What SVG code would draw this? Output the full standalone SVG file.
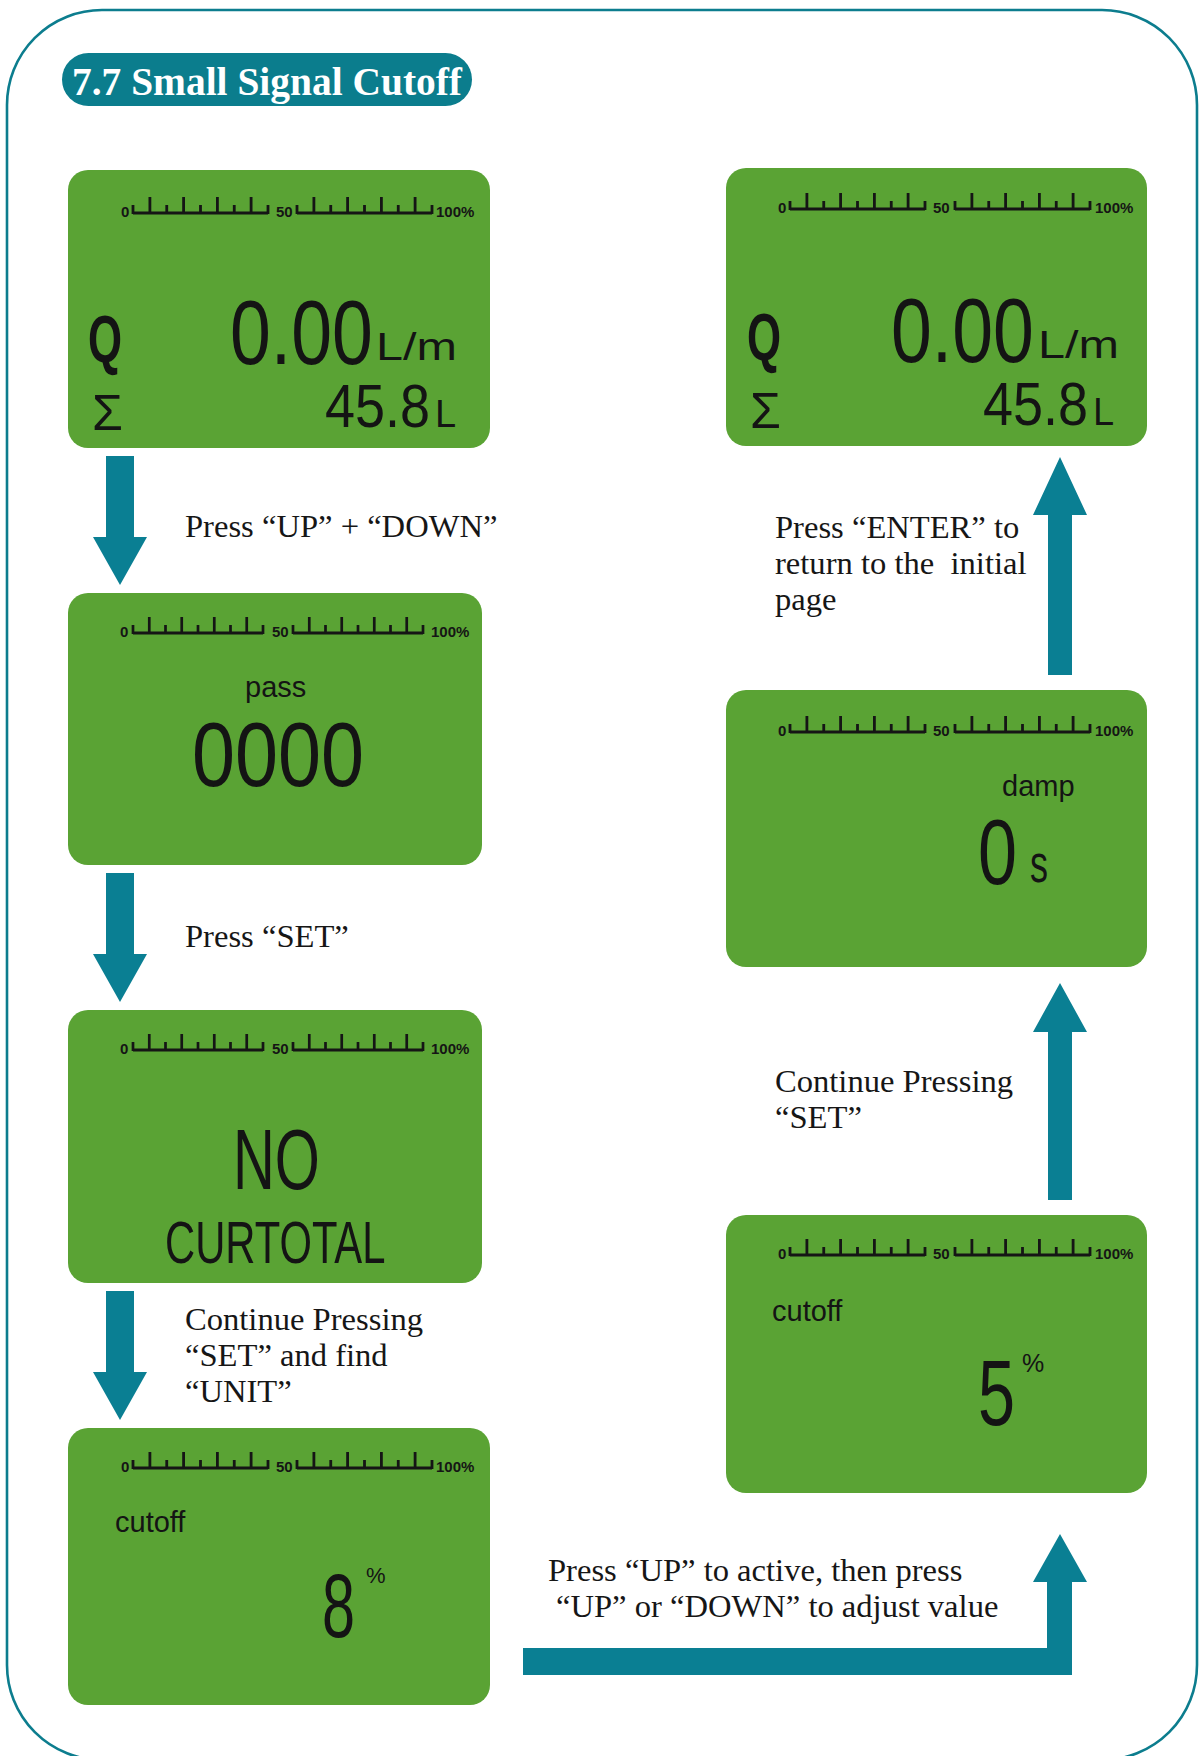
<svg xmlns="http://www.w3.org/2000/svg" xmlns:xlink="http://www.w3.org/1999/xlink" width="1200" height="1756" viewBox="0 0 1200 1756">
<style>
.frame{fill:none;stroke:#0c7d8e;stroke-width:2.6}
.pill{fill:#0b7d8d}
.title{font-family:"Liberation Serif","Times New Roman",serif;font-weight:bold;font-size:40px;fill:#ffffff}
.lcd{fill:#5aa334}
.arrow{fill:#0a7f93}
.lbl{font-family:"Liberation Serif","Times New Roman",serif;font-size:32.6px;fill:#161616}
.bar{font-family:"Liberation Sans",Arial,sans-serif;font-weight:bold;font-size:15px;fill:#151515}
.word{font-family:"Liberation Sans",Arial,sans-serif;font-size:29px;fill:#141414}
.seg{font-family:"Liberation Sans",Arial,sans-serif;fill:#141414}
.ruler{fill:none;stroke:#151515;stroke-width:2.8}
</style>
<defs>
<path id="ruler" class="ruler" d="M0,0 H135 M0,1 V-8 M135,1 V-8 M16.9,0 V-16 M33.75,0 V-8 M50.6,0 V-16 M67.5,0 V-8 M84.4,0 V-16 M101.25,0 V-8 M118.1,0 V-16"/>
</defs>
<rect id="border" class="frame" x="7" y="10" width="1190" height="1750" rx="95" ry="95"/>
<g id="title">
<rect class="pill" x="62" y="53" width="410" height="53" rx="26.5" ry="26.5"/>
<text class="title" x="72" y="95" textLength="390" lengthAdjust="spacingAndGlyphs">7.7 Small Signal Cutoff</text>
</g>

<g id="lcd-1">
<rect class="lcd" x="68" y="170" width="422" height="278" rx="20" ry="20"/>
<text class="bar" x="121" y="217">0</text>
<use xlink:href="#ruler" x="133" y="213"/>
<text class="bar" x="276" y="217">50</text>
<use xlink:href="#ruler" x="297" y="213"/>
<text class="bar" x="436" y="217">100%</text>
<text class="seg" transform="translate(88,362) scale(0.653,1)" font-size="67" font-weight="bold">Q</text>
<text class="seg" x="92" y="430" font-size="50">Σ</text>
<text class="seg" transform="translate(230,364) scale(0.807,1)" font-size="91">0.00</text>
<text class="seg" transform="translate(376,360) scale(1.246,1)" font-size="39">L/m</text>
<text class="seg" transform="translate(325,427) scale(0.885,1)" font-size="61">45.8</text>
<text class="seg" x="435" y="427" font-size="38">L</text>
</g>

<g id="lcd-2">
<rect class="lcd" x="68" y="593" width="414" height="272" rx="20" ry="20"/>
<text class="bar" x="120" y="637">0</text>
<use xlink:href="#ruler" transform="translate(133,633) scale(0.963,1)"/>
<text class="bar" x="272" y="637">50</text>
<use xlink:href="#ruler" transform="translate(293,633) scale(0.963,1)"/>
<text class="bar" x="431" y="637">100%</text>
<text class="word" x="245" y="697">pass</text>
<text class="seg" transform="translate(192,786) scale(0.85,1)" font-size="91">0000</text>
</g>

<g id="lcd-3">
<rect class="lcd" x="68" y="1010" width="414" height="273" rx="20" ry="20"/>
<text class="bar" x="120" y="1054">0</text>
<use xlink:href="#ruler" transform="translate(133,1050) scale(0.963,1)"/>
<text class="bar" x="272" y="1054">50</text>
<use xlink:href="#ruler" transform="translate(293,1050) scale(0.963,1)"/>
<text class="bar" x="431" y="1054">100%</text>
<text class="seg" transform="translate(233,1189) scale(0.674,1)" font-size="86">NO</text>
<text class="seg" transform="translate(165,1263) scale(0.696,1)" font-size="60">CURTOTAL</text>
</g>

<g id="lcd-4">
<rect class="lcd" x="68" y="1428" width="422" height="277" rx="20" ry="20"/>
<text class="bar" x="121" y="1472">0</text>
<use xlink:href="#ruler" x="133" y="1468"/>
<text class="bar" x="276" y="1472">50</text>
<use xlink:href="#ruler" x="297" y="1468"/>
<text class="bar" x="436" y="1472">100%</text>
<text class="word" x="115" y="1532">cutoff</text>
<text class="seg" transform="translate(322,1637) scale(0.652,1)" font-size="91">8</text>
<text class="seg" x="366" y="1583" font-size="22">%</text>
</g>

<g id="lcd-5">
<rect class="lcd" x="726" y="168" width="421" height="278" rx="20" ry="20"/>
<text class="bar" x="778" y="213">0</text>
<use xlink:href="#ruler" x="790" y="209"/>
<text class="bar" x="933" y="213">50</text>
<use xlink:href="#ruler" x="955" y="209"/>
<text class="bar" x="1095" y="213">100%</text>
<text class="seg" transform="translate(747,360) scale(0.653,1)" font-size="67" font-weight="bold">Q</text>
<text class="seg" x="750" y="428" font-size="50">Σ</text>
<text class="seg" transform="translate(891,362) scale(0.807,1)" font-size="91">0.00</text>
<text class="seg" transform="translate(1038,358) scale(1.246,1)" font-size="39">L/m</text>
<text class="seg" transform="translate(983,425) scale(0.885,1)" font-size="61">45.8</text>
<text class="seg" x="1093" y="425" font-size="38">L</text>
</g>

<g id="lcd-6">
<rect class="lcd" x="726" y="690" width="421" height="277" rx="20" ry="20"/>
<text class="bar" x="778" y="736">0</text>
<use xlink:href="#ruler" x="790" y="732"/>
<text class="bar" x="933" y="736">50</text>
<use xlink:href="#ruler" x="955" y="732"/>
<text class="bar" x="1095" y="736">100%</text>
<text class="word" x="1002" y="796" font-size="30">damp</text>
<text class="seg" transform="translate(978,884) scale(0.762,1)" font-size="92">0</text>
<text class="seg" transform="translate(1030,882) scale(0.667,1)" font-size="54">s</text>
</g>

<g id="lcd-7">
<rect class="lcd" x="726" y="1215" width="421" height="278" rx="20" ry="20"/>
<text class="bar" x="778" y="1259">0</text>
<use xlink:href="#ruler" x="790" y="1255"/>
<text class="bar" x="933" y="1259">50</text>
<use xlink:href="#ruler" x="955" y="1255"/>
<text class="bar" x="1095" y="1259">100%</text>
<text class="word" x="772" y="1321">cutoff</text>
<text class="seg" transform="translate(978,1425) scale(0.716,1)" font-size="93">5</text>
<text class="seg" x="1022" y="1372" font-size="25">%</text>
</g>

<g id="connectors">
<polygon id="arrow-1" class="arrow" points="106,456 134,456 134,537 147,537 120,585 93,537 106,537"/>
<polygon id="arrow-2" class="arrow" points="106,873 134,873 134,954 147,954 120,1002 93,954 106,954"/>
<polygon id="arrow-3" class="arrow" points="106,1291 134,1291 134,1372 147,1372 120,1420 93,1372 106,1372"/>
<polygon id="arrow-4" class="arrow" points="523,1648 1047,1648 1047,1582 1033,1582 1060,1534 1087,1582 1072,1582 1072,1675 523,1675"/>
<polygon id="arrow-5" class="arrow" points="1048,1200 1048,1032 1033,1032 1060,983 1087,1032 1072,1032 1072,1200"/>
<polygon id="arrow-6" class="arrow" points="1048,675 1048,515 1033,515 1060,457 1087,515 1072,515 1072,675"/>
</g>

<g id="labels">
<text class="lbl" x="185" y="537">Press “UP” + “DOWN”</text>
<text class="lbl" x="185" y="947">Press “SET”</text>
<text class="lbl" x="185" y="1330">Continue Pressing</text>
<text class="lbl" x="185" y="1366">“SET” and find</text>
<text class="lbl" x="185" y="1402">“UNIT”</text>
<text class="lbl" x="548" y="1581">Press “UP” to active, then press</text>
<text class="lbl" x="556" y="1617">“UP” or “DOWN” to adjust value</text>
<text class="lbl" x="775" y="1092">Continue Pressing</text>
<text class="lbl" x="775" y="1128">“SET”</text>
<text class="lbl" x="775" y="538">Press “ENTER” to</text>
<text class="lbl" x="775" y="574" xml:space="preserve">return to the  initial</text>
<text class="lbl" x="775" y="610">page</text>
</g>
</svg>
